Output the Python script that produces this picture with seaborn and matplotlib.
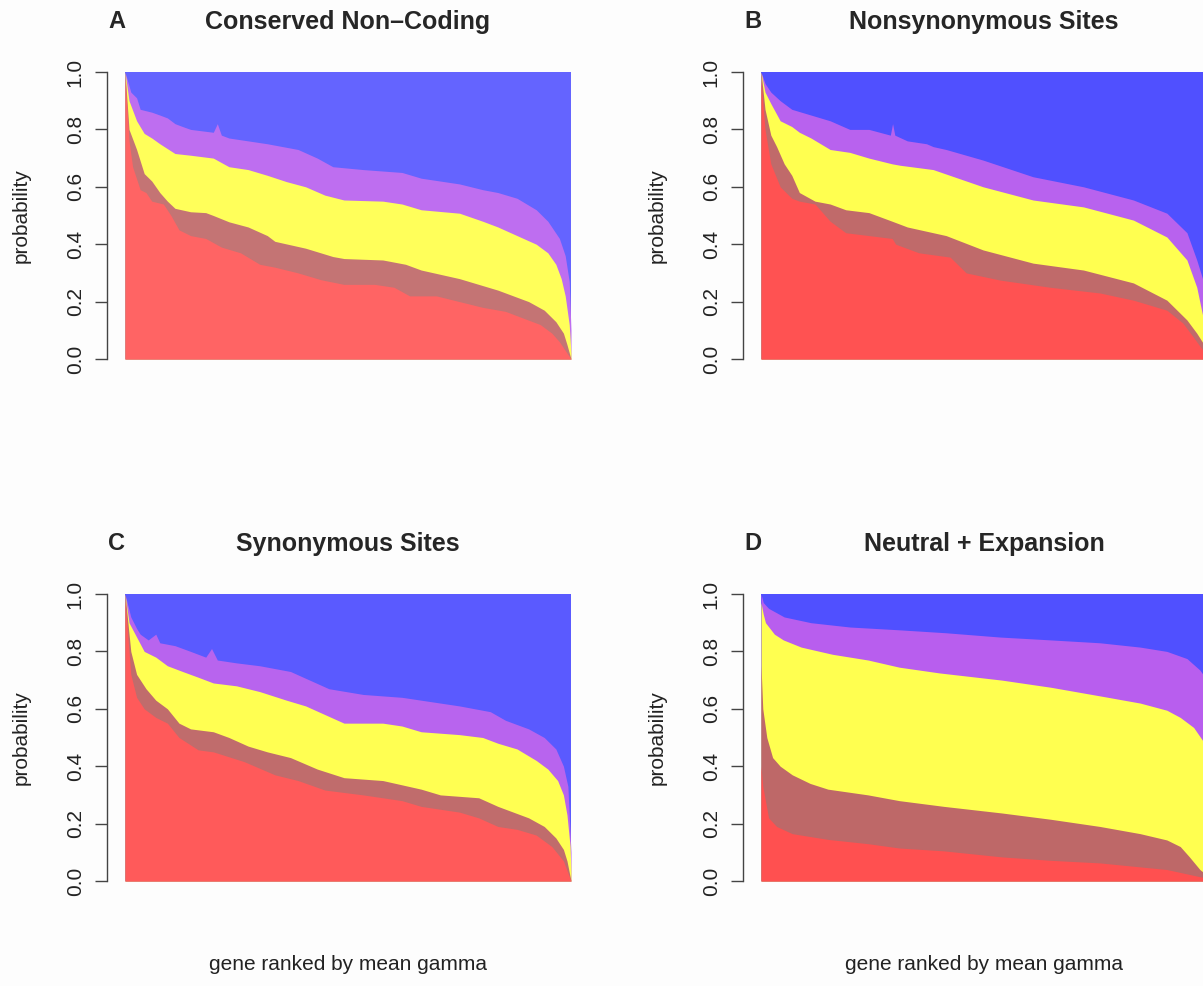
import numpy as np
import matplotlib
matplotlib.use("Agg")
import matplotlib.pyplot as plt
import seaborn as sns

# ---- data: each boundary is (rank fraction, cumulative probability) ----
# panel A: Conserved Non-Coding
a_red_x = [0, .009, .017, .034, .047, .06, .086, .103, .121, .147, .181, .216, .259, .302, .336,
           .388, .44, .491, .56, .603, .638, .698, .75, .802, .853, .897, .931, .957, .974, .987, 1.0]
a_red_y = [.98, .76, .67, .59, .58, .55, .54, .50, .45, .43, .42, .39, .37, .33, .32,
           .30, .276, .26, .26, .25, .22, .22, .20, .18, .166, .14, .12, .09, .06, .03, 0]
a_brown_x = [0, .009, .026, .043, .06, .078, .095, .112, .147, .181, .198, .233, .276, .319, .336,
             .405, .466, .491, .578, .629, .664, .75, .836, .905, .94, .966, .983, .991, 1.0]
a_brown_y = [1.0, .80, .73, .646, .62, .58, .55, .525, .513, .51, .50, .478, .46, .43, .41,
             .386, .357, .35, .345, .33, .31, .28, .24, .20, .17, .13, .09, .05, 0]
a_yellow_x = [0, .009, .026, .043, .06, .078, .112, .147, .198, .233, .276, .319, .362, .405, .448,
              .491, .578, .621, .664, .75, .802, .836, .879, .922, .948, .966, .978, .987, .996, 1.0]
a_yellow_y = [1.0, .90, .83, .786, .77, .75, .716, .71, .70, .67, .66, .64, .618, .60, .571,
              .554, .55, .54, .52, .508, .48, .46, .43, .40, .37, .33, .28, .22, .12, .02]
a_purple_x = [0, .013, .026, .034, .06, .078, .095, .112, .129, .147, .198, .207, .216, .233, .276, .319,
              .388, .431, .466, .534, .621, .664, .75, .802, .836, .879, .922, .948, .974, .987, .996, 1.0]
a_purple_y = [1.0, .93, .91, .87, .86, .85, .84, .82, .81, .80, .79, .82, .78, .77, .76, .75,
              .73, .70, .67, .66, .65, .63, .61, .59, .58, .56, .52, .48, .42, .36, .27, .10]

# panel B: Nonsynonymous Sites
b_red_x = [0, .009, .022, .043, .069, .086, .121, .155, .19, .242, .294, .302, .354, .424, .46, .536,
           .648, .76, .835, .91, .946, .969, .991, 1.0]
b_red_y = [.97, .80, .68, .60, .56, .55, .54, .48, .44, .43, .42, .40, .37, .355, .30, .275,
           .25, .23, .205, .17, .125, .077, .03, 0]
b_brown_x = [0, .009, .022, .035, .052, .069, .086, .121, .155, .19, .242, .294, .328, .386, .415, .498,
             .61, .723, .835, .91, .955, .977, .991, 1.0]
b_brown_y = [1.0, .87, .78, .74, .68, .64, .58, .55, .54, .52, .51, .48, .46, .44, .43, .38,
             .334, .31, .265, .205, .136, .09, .056, 0]
b_yellow_x = [0, .009, .022, .043, .069, .086, .112, .155, .199, .242, .294, .312, .386, .498, .61,
              .723, .835, .91, .955, .977, .991, 1.0]
b_yellow_y = [1.0, .93, .89, .83, .81, .79, .77, .73, .72, .70, .68, .675, .66, .60, .554,
              .53, .484, .425, .345, .25, .146, 0]
b_purple_x = [0, .009, .022, .043, .069, .112, .155, .199, .242, .29, .295, .30, .328, .371, .386, .415,
              .498, .61, .723, .835, .91, .955, .977, .991, 1.0]
b_purple_y = [1.0, .96, .93, .90, .87, .85, .83, .80, .80, .78, .82, .78, .76, .75, .74, .73,
              .693, .635, .60, .554, .508, .44, .345, .275, 0]

# panel C: Synonymous Sites
c_red_x = [0, .013, .026, .043, .069, .095, .121, .164, .198, .267, .336, .388, .448, .534, .578,
           .621, .664, .75, .793, .836, .879, .922, .957, .983, 1.0]
c_red_y = [.98, .72, .64, .60, .57, .55, .50, .457, .45, .416, .37, .35, .317, .30, .29,
           .28, .26, .24, .22, .19, .18, .16, .12, .07, 0]
c_brown_x = [0, .013, .026, .047, .069, .095, .121, .147, .198, .233, .276, .319, .371, .431, .491,
             .578, .664, .707, .793, .836, .905, .94, .966, .983, .991, 1.0]
c_brown_y = [1.0, .80, .72, .67, .63, .60, .55, .53, .52, .50, .47, .45, .43, .39, .36,
             .35, .32, .30, .29, .26, .22, .19, .15, .11, .07, 0]
c_yellow_x = [0, .009, .026, .043, .069, .095, .129, .164, .198, .25, .302, .362, .405, .448, .491,
              .578, .621, .664, .75, .802, .836, .879, .922, .948, .97, .983, .991, .998, 1.0]
c_yellow_y = [1.0, .90, .85, .80, .78, .75, .73, .71, .69, .68, .66, .63, .61, .58, .55,
              .55, .54, .52, .51, .50, .48, .46, .42, .39, .35, .30, .23, .12, .03]
c_purple_x = [0, .013, .026, .034, .052, .069, .078, .112, .147, .181, .194, .207, .25, .302, .371,
              .414, .457, .534, .621, .664, .75, .819, .853, .905, .94, .966, .983, .993, 1.0]
c_purple_y = [1.0, .92, .88, .86, .84, .86, .83, .82, .80, .78, .81, .77, .76, .75, .73,
              .70, .67, .65, .64, .63, .61, .59, .56, .53, .50, .46, .40, .33, .10]

# panel D: Neutral + Expansion
d_red_x = [0, .004, .017, .035, .07, .15, .24, .31, .41, .54, .65, .76, .91, .984, 1.0]
d_red_y = [.40, .33, .22, .19, .165, .145, .13, .115, .105, .084, .072, .063, .04, .015, .01]
d_brown_x = [0, .004, .013, .026, .043, .07, .11, .15, .24, .31, .41, .54, .65, .76, .85,
             .91, .94, .96, .984, 1.0]
d_brown_y = [.75, .60, .50, .43, .40, .37, .34, .32, .30, .28, .26, .237, .215, .19, .165,
             .143, .12, .085, .04, .02]
d_yellow_x = [0, .005, .01, .03, .05, .09, .16, .24, .31, .40, .54, .65, .76, .85, .91,
              .94, .97, .99, 1.0]
d_yellow_y = [.97, .93, .90, .86, .84, .815, .79, .77, .745, .725, .70, .675, .645, .62, .595,
              .57, .535, .49, .45]
d_purple_x = [0, .005, .017, .052, .112, .199, .312, .414, .536, .65, .76, .85, .91, .955, .984, 1.0]
d_purple_y = [1.0, .97, .95, .92, .90, .885, .875, .865, .85, .84, .83, .815, .80, .775, .735, .70]

panels = [
    ("A", "Conserved Non\u2013Coding",
     [(a_purple_x, a_purple_y), (a_yellow_x, a_yellow_y), (a_brown_x, a_brown_y), (a_red_x, a_red_y)]),
    ("B", "Nonsynonymous Sites",
     [(b_purple_x, b_purple_y), (b_yellow_x, b_yellow_y), (b_brown_x, b_brown_y), (b_red_x, b_red_y)]),
    ("C", "Synonymous Sites",
     [(c_purple_x, c_purple_y), (c_yellow_x, c_yellow_y), (c_brown_x, c_brown_y), (c_red_x, c_red_y)]),
    ("D", "Neutral + Expansion",
     [(d_purple_x, d_purple_y), (d_yellow_x, d_yellow_y), (d_brown_x, d_brown_y), (d_red_x, d_red_y)]),
]

# colours per panel: blue, purple, yellow, brown, red (A is a bit paler)
palettes = {
    "A": ["#6464FF", "#BE6EF0", "#FFFF5A", "#C47474", "#FF6464"],
    "B": ["#5050FF", "#B862EE", "#FFFF50", "#C06A6A", "#FF5252"],
    "C": ["#5A5AFF", "#B864EE", "#FFFF52", "#C06C6C", "#FF5A5A"],
    "D": ["#5050FF", "#B85EEE", "#FFFF50", "#BE6868", "#FF5050"],
}

sns.set_theme(style="white")
plt.rcParams["font.family"] = ["Liberation Sans", "DejaVu Sans"]

W, H = 1203, 986
fig = plt.figure(figsize=(W / 100, H / 100), dpi=100)
fig.patch.set_facecolor("#FDFDFD")

# axes boxes in pixels (left, top, right, bottom); the right column is cut by the figure edge
boxes = {"A": (125, 72, 571, 359), "B": (761, 72, 1207, 359),
         "C": (125, 594, 571, 881), "D": (761, 594, 1207, 881)}

for letter, title, layers in panels:
    x0, y0, x1, y1 = boxes[letter]
    ax = fig.add_axes([x0 / W, 1 - y1 / H, (x1 - x0) / W, (y1 - y0) / H])
    ax.set_facecolor("none")
    cols = palettes[letter]
    ax.fill_between([0, 1], 0, 1, color=cols[0], lw=0)
    for (xs, ys), col in zip(layers, cols[1:]):
        ax.fill_between(xs, 0, ys, color=col, lw=0)
    ax.set_xlim(0, 1)
    ax.set_ylim(0, 1)
    ax.set_xticks([])

    # R-style detached axis; despine first because moving the spine rebuilds the ticks
    sns.despine(ax=ax, bottom=True, offset=13)
    ax.spines["left"].set_color("#444444")
    ax.spines["left"].set_linewidth(1.0)
    ax.spines["left"].set_bounds(0, 1)

    ticks = [0, .2, .4, .6, .8, 1.0]
    ax.set_yticks(ticks, [f"{t:.1f}" for t in ticks])
    ax.tick_params(axis="y", left=True, length=9, width=1.0, color="#444444", pad=7,
                   labelsize=15, labelrotation=90, labelcolor="#222222")
    for tk in ax.yaxis.get_major_ticks():
        tk.label1.set_va("center")

    cx = (x0 + x1) / 2
    ty = y0 - 50
    fig.text((x0 - 8) / W, 1 - ty / H, letter, fontsize=17, fontweight="bold", ha="center", va="center")
    fig.text(cx / W, 1 - ty / H, title, fontsize=18, fontweight="bold", ha="center", va="center")
    fig.text((x0 - 104) / W, 1 - (y0 + y1) / 2 / H, "probability", rotation=90,
             fontsize=15, ha="center", va="center", color="#222222")
    if letter in ("C", "D"):
        fig.text(cx / W, 1 - 965 / H, "gene ranked by mean gamma", fontsize=15,
                 ha="center", va="center", color="#222222")

fig.savefig("out.png", dpi=100, facecolor=fig.get_facecolor())
